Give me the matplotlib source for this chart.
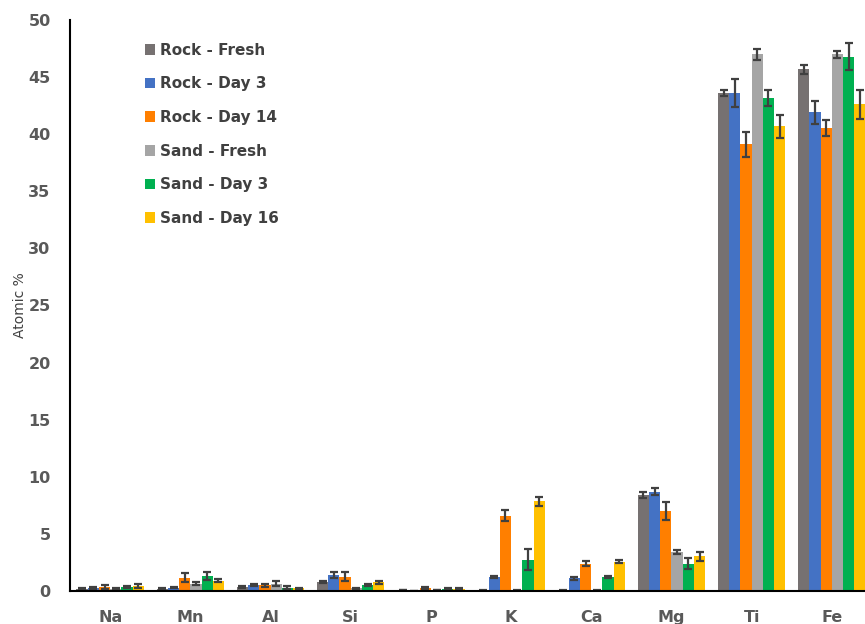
import numpy as np
import matplotlib
matplotlib.use("Agg")
import matplotlib.pyplot as plt

# elements on the x axis
elements = ["Na", "Mn", "Al", "Si", "P", "K", "Ca", "Mg", "Ti", "Fe"]

series_names = ["Rock - Fresh", "Rock - Day 3", "Rock - Day 14",
                "Sand - Fresh", "Sand - Day 3", "Sand - Day 16"]

# atomic % per series
rock_fresh = [0.2, 0.2, 0.35, 0.8, 0.1, 0.05, 0.05, 8.4, 43.6, 45.7]
rock_day3 = [0.25, 0.3, 0.55, 1.4, 0.0, 1.2, 1.1, 8.7, 43.6, 41.9]
rock_day14 = [0.35, 1.15, 0.5, 1.25, 0.25, 6.6, 2.4, 7.0, 39.1, 40.5]
sand_fresh = [0.2, 0.65, 0.65, 0.25, 0.1, 0.05, 0.05, 3.4, 47.0, 47.0]
sand_day3 = [0.35, 1.35, 0.3, 0.55, 0.2, 2.75, 1.2, 2.4, 43.2, 46.8]
sand_day16 = [0.45, 0.9, 0.25, 0.75, 0.2, 7.85, 2.55, 3.05, 40.7, 42.6]

# error bars
err_rock_fresh = [0.05, 0.05, 0.1, 0.1, 0.02, 0.02, 0.02, 0.3, 0.25, 0.4]
err_rock_day3 = [0.1, 0.05, 0.1, 0.25, 0.0, 0.1, 0.1, 0.3, 1.2, 1.0]
err_rock_day14 = [0.15, 0.4, 0.15, 0.4, 0.1, 0.45, 0.25, 0.8, 1.1, 0.7]
err_sand_fresh = [0.05, 0.1, 0.25, 0.05, 0.02, 0.02, 0.02, 0.2, 0.5, 0.3]
err_sand_day3 = [0.1, 0.35, 0.1, 0.1, 0.05, 0.9, 0.1, 0.5, 0.7, 1.2]
err_sand_day16 = [0.2, 0.15, 0.05, 0.15, 0.05, 0.4, 0.12, 0.4, 1.0, 1.3]

colors = ["#767171", "#4472C4", "#FF7F00", "#A5A5A5", "#00B050", "#FFC000"]

values = [rock_fresh, rock_day3, rock_day14, sand_fresh, sand_day3, sand_day16]
errors = [err_rock_fresh, err_rock_day3, err_rock_day14,
          err_sand_fresh, err_sand_day3, err_sand_day16]

fig = plt.figure(figsize=(8.65, 6.24), dpi=100)
ax = fig.add_axes([0.081, 0.053, 0.927, 0.915])

x = np.arange(len(elements))
w = 0.14
for i in range(len(values)):
    off = (i - 2.5) * w
    ax.bar(x + off, values[i], w, color=colors[i], label=series_names[i],
           yerr=errors[i], capsize=3,
           error_kw=dict(ecolor="#404040", elinewidth=1.6, capthick=1.6))

ax.set_xlim(-0.5, len(elements) - 0.5)
ax.set_ylim(0, 50)
ax.set_yticks(np.arange(0, 51, 5))
ax.set_xticks(x)
ax.set_xticklabels(elements)
for s in ["top", "right"]:
    ax.spines[s].set_visible(False)
ax.spines["left"].set_linewidth(1.5)
ax.spines["bottom"].set_linewidth(1.5)
ax.tick_params(length=0, labelsize=11.5, labelcolor="#595959")
ax.tick_params(axis="x", pad=14)
ax.tick_params(axis="y", pad=14)
for lab in ax.get_xticklabels() + ax.get_yticklabels():
    lab.set_fontweight("bold")
ax.set_ylabel("Atomic %", fontsize=10, color="#404040", labelpad=1)

leg = ax.legend(loc="upper left", bbox_to_anchor=(0.076, 0.984), frameon=False,
                fontsize=11, labelspacing=1.22, handlelength=0.7,
                handleheight=0.7, handletextpad=0.3)
for t in leg.get_texts():
    t.set_fontweight("bold")
    t.set_color("#404040")

fig.savefig("out.png", dpi=100)
